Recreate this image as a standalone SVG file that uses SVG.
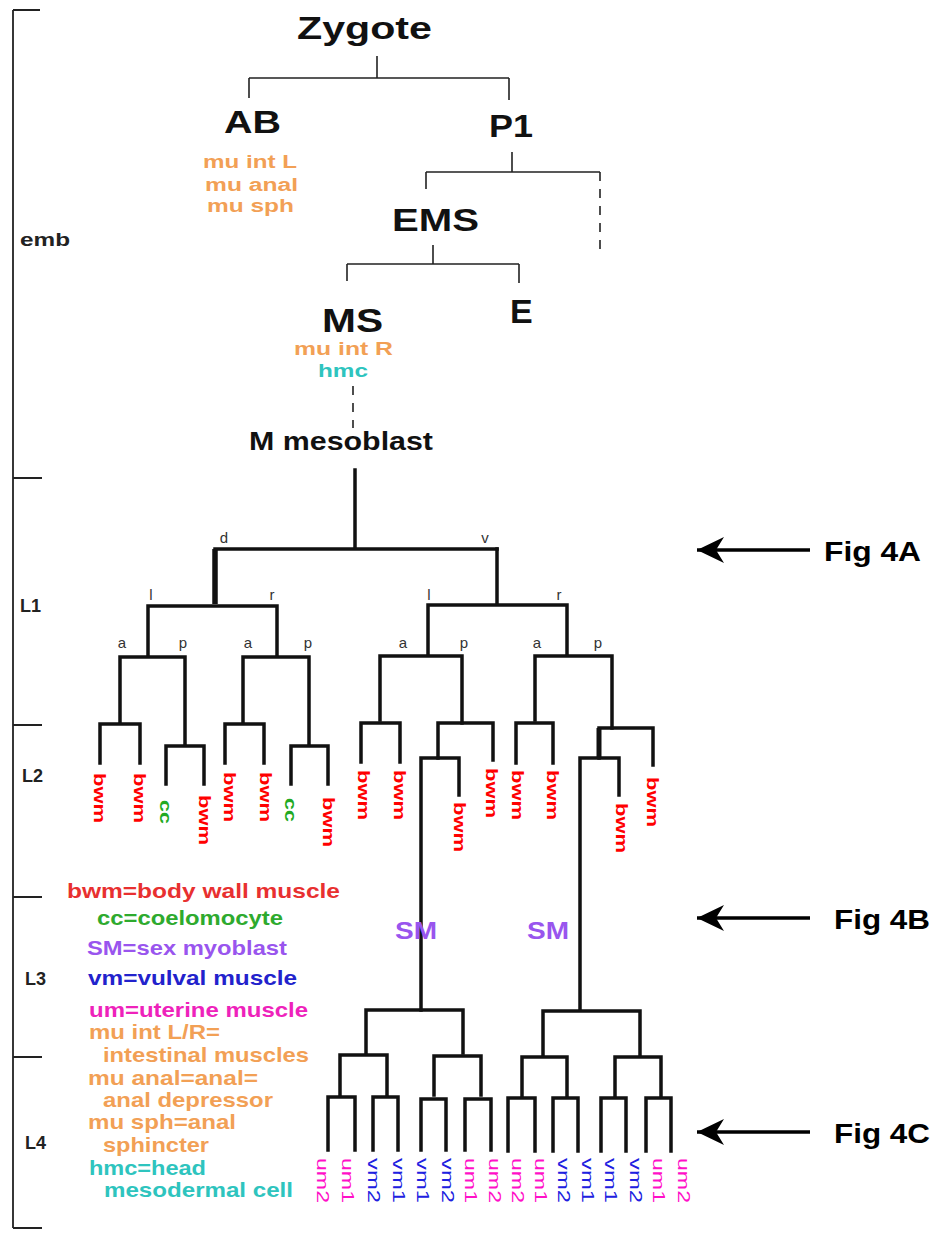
<svg xmlns="http://www.w3.org/2000/svg" width="933" height="1233" viewBox="0 0 933 1233">
<style>
text{font-family:"Liberation Sans",Arial,sans-serif}
.big{font-weight:bold;fill:#111}
.or{fill:#F2A055;font-weight:bold}
.tl{fill:#2EC4BE;font-weight:bold}
.lv{font-size:18px;font-weight:bold;fill:#222}
.ax{font-size:15px;fill:#333;text-anchor:middle}
.thin{stroke:#222;stroke-width:1.6;fill:none}
.dash{stroke:#222;stroke-width:1.6;fill:none;stroke-dasharray:9 8}
.tk{stroke:#111;stroke-width:3.5;fill:none;stroke-linejoin:miter;stroke-linecap:square}
.tl2{stroke:#222;stroke-width:1.8;fill:none}
.arr{stroke:#000;stroke-width:3.5;fill:none;marker-start:url(#ah)}
.bwm{fill:#FF0000;font-size:17px;font-weight:bold}
.cc{fill:#22AA22;font-size:17px;font-weight:bold}
.um{fill:#FF10C8;font-size:17px}
.vm{fill:#2020E0;font-size:17px}
.leg{font-size:21px;font-weight:bold}
.fig{font-size:28px;font-weight:bold;fill:#000}
.sm{fill:#9955EE;font-size:24px;font-weight:bold}
</style>
<defs>
<marker id="ah" markerUnits="userSpaceOnUse" markerWidth="30" markerHeight="30" refX="28" refY="14" orient="auto-start-reverse" viewBox="0 0 30 30">
<path d="M28,14 L1,1 L9,14 L1,27 Z" fill="#000"/>
</marker>
</defs>

<g id="timeline">
<path class="tl2" d="M13,10 V1228 M13,10 H40 M13,478 H42 M13,725 H42 M13,897 H42 M13,1057 H42 M13,1228 H42"/>
<text class="lv" x="20" y="246" textLength="50" lengthAdjust="spacingAndGlyphs">emb</text>
<text class="lv" x="20" y="612">L1</text>
<text class="lv" x="22" y="782">L2</text>
<text class="lv" x="25" y="985">L3</text>
<text class="lv" x="25" y="1149">L4</text>
</g>

<g id="connectors">
<path class="thin" d="M377,56 V78 M249,78 H509 M249,78 V98 M509,78 V100"/>
<path class="thin" d="M512,152 V172 M426,172 H600 M426,172 V189"/>
<path class="dash" d="M600,172 V250"/>
<path class="thin" d="M433,245 V264 M347,264 H519 M347,264 V281 M519,264 V283"/>
<path class="dash" d="M353,386 V428"/>
<path class="tk" d="M355,470 V549 M215,549 H497"/>
<path stroke="#111" stroke-width="5.5" d="M215,549 V604"/>
<path class="tk" d="M148,606 H277 M148,606 V655 M277,606 V655"/>
<path class="tk" d="M120,657 H185 M120,657 V722 M185,657 V745 M243,657 H309 M243,657 V722 M309,657 V745"/>
<path class="tk" d="M100,763 V724 H140 V763 M166,784 V746 H204 V784 M225,763 V724 H264 V763 M291,784 V746 H328 V784"/>
<path class="tk" d="M497,549 V603 M428,605 H567 M428,605 V655 M567,605 V655"/>
<path class="tk" d="M380,656 H462 M380,656 V720 M462,656 V723 M535,656 H612 M535,656 V720 M612,656 V728"/>
<path class="tk" d="M361,762 V723 H400 V762 M438,758 V723 H493 V760 M516,763 V723 H553 V763 M599,758 V728 H653 V765"/>
<path stroke="#111" stroke-width="5" d="M599,728 V758"/>
<path class="tk" d="M421,1010 V758 H459 V795 M580,1010 V758 H619 V795"/>
<path class="tk" d="M366,1010 H463 M366,1010 V1053 M463,1010 V1053"/>
<path class="tk" d="M340,1055 H387 M340,1055 V1095 M387,1055 V1095 M434,1056 H481 M434,1056 V1095 M481,1056 V1095"/>
<path class="tk" d="M328,1150 V1097 H355 V1150 M373,1150 V1097 H398 V1150 M421,1150 V1099 H446 V1150 M465,1150 V1099 H491 V1150"/>
<path class="tk" d="M543,1011 H640 M543,1011 V1055 M640,1011 V1055"/>
<path class="tk" d="M522,1057 H567 M522,1057 V1096 M567,1057 V1096 M615,1057 H661 M615,1057 V1096 M661,1057 V1096"/>
<path class="tk" d="M508,1151 V1098 H535 V1151 M553,1151 V1098 H578 V1151 M601,1151 V1098 H626 V1151 M646,1151 V1098 H671 V1151"/>
<line class="arr" x1="697" y1="550" x2="810" y2="550"/>
<line class="arr" x1="697" y1="918" x2="810" y2="918"/>
<line class="arr" x1="697" y1="1132" x2="810" y2="1132"/>
</g>

<g id="branch-labels">
<text class="ax" x="224" y="543">d</text>
<text class="ax" x="485" y="543">v</text>
<text class="ax" x="151" y="600">l</text>
<text class="ax" x="272" y="600">r</text>
<text class="ax" x="429" y="600">l</text>
<text class="ax" x="559" y="600">r</text>
<text class="ax" x="122" y="648">a</text>
<text class="ax" x="183" y="648">p</text>
<text class="ax" x="248" y="648">a</text>
<text class="ax" x="308" y="648">p</text>
<text class="ax" x="403" y="648">a</text>
<text class="ax" x="464" y="648">p</text>
<text class="ax" x="537" y="648">a</text>
<text class="ax" x="598" y="648">p</text>
</g>

<g id="zygote"><text class="big" x="297" y="39" font-size="31" textLength="135" lengthAdjust="spacingAndGlyphs">Zygote</text></g>
<g id="ab">
<text class="big" x="224" y="133" font-size="32" textLength="57" lengthAdjust="spacingAndGlyphs">AB</text>
<text class="or" x="203" y="168" font-size="18" textLength="94" lengthAdjust="spacingAndGlyphs">mu int L</text>
<text class="or" x="205" y="191" font-size="18" textLength="93" lengthAdjust="spacingAndGlyphs">mu anal</text>
<text class="or" x="207" y="212" font-size="18" textLength="87" lengthAdjust="spacingAndGlyphs">mu sph</text>
</g>
<g id="p1"><text class="big" x="489" y="137" font-size="32" textLength="44" lengthAdjust="spacingAndGlyphs">P1</text></g>
<g id="ems"><text class="big" x="392" y="231" font-size="32" textLength="87" lengthAdjust="spacingAndGlyphs">EMS</text></g>
<g id="ms">
<text class="big" x="322" y="332" font-size="34" textLength="61" lengthAdjust="spacingAndGlyphs">MS</text>
<text class="or" x="294" y="355" font-size="19" textLength="99" lengthAdjust="spacingAndGlyphs">mu int R</text>
<text class="tl" x="318" y="377" font-size="19" textLength="50" lengthAdjust="spacingAndGlyphs">hmc</text>
</g>
<g id="e"><text class="big" x="510" y="323" font-size="34">E</text></g>
<g id="m-mesoblast"><text class="big" x="249" y="450" font-size="25" textLength="184" lengthAdjust="spacingAndGlyphs">M mesoblast</text></g>

<g id="l2-leaves" dominant-baseline="central">
<text class="bwm" transform="translate(99,773) rotate(90)" textLength="50" lengthAdjust="spacingAndGlyphs">bwm</text>
<text class="bwm" transform="translate(139,773) rotate(90)" textLength="50" lengthAdjust="spacingAndGlyphs">bwm</text>
<text class="cc" transform="translate(165,800) rotate(90)" textLength="24" lengthAdjust="spacingAndGlyphs">cc</text>
<text class="bwm" transform="translate(204,795) rotate(90)" textLength="50" lengthAdjust="spacingAndGlyphs">bwm</text>
<text class="bwm" transform="translate(229,772) rotate(90)" textLength="50" lengthAdjust="spacingAndGlyphs">bwm</text>
<text class="bwm" transform="translate(265,772) rotate(90)" textLength="50" lengthAdjust="spacingAndGlyphs">bwm</text>
<text class="cc" transform="translate(290,798) rotate(90)" textLength="24" lengthAdjust="spacingAndGlyphs">cc</text>
<text class="bwm" transform="translate(328,797) rotate(90)" textLength="50" lengthAdjust="spacingAndGlyphs">bwm</text>
<text class="bwm" transform="translate(363,770) rotate(90)" textLength="50" lengthAdjust="spacingAndGlyphs">bwm</text>
<text class="bwm" transform="translate(399,770) rotate(90)" textLength="50" lengthAdjust="spacingAndGlyphs">bwm</text>
<text class="bwm" transform="translate(459,802) rotate(90)" textLength="50" lengthAdjust="spacingAndGlyphs">bwm</text>
<text class="bwm" transform="translate(491,768) rotate(90)" textLength="50" lengthAdjust="spacingAndGlyphs">bwm</text>
<text class="bwm" transform="translate(517,770) rotate(90)" textLength="50" lengthAdjust="spacingAndGlyphs">bwm</text>
<text class="bwm" transform="translate(552,770) rotate(90)" textLength="50" lengthAdjust="spacingAndGlyphs">bwm</text>
<text class="bwm" transform="translate(621,803) rotate(90)" textLength="50" lengthAdjust="spacingAndGlyphs">bwm</text>
<text class="bwm" transform="translate(652,777) rotate(90)" textLength="50" lengthAdjust="spacingAndGlyphs">bwm</text>
</g>

<g id="sm-labels">
<text class="sm" x="395" y="939" textLength="42" lengthAdjust="spacingAndGlyphs">SM</text>
<text class="sm" x="527" y="939" textLength="42" lengthAdjust="spacingAndGlyphs">SM</text>
</g>

<g id="l4-leaves" dominant-baseline="central">
<text class="um" transform="translate(322,1158) rotate(90)" textLength="45" lengthAdjust="spacingAndGlyphs">um2</text>
<text class="um" transform="translate(347,1158) rotate(90)" textLength="45" lengthAdjust="spacingAndGlyphs">um1</text>
<text class="vm" transform="translate(373,1158) rotate(90)" textLength="45" lengthAdjust="spacingAndGlyphs">vm2</text>
<text class="vm" transform="translate(398,1158) rotate(90)" textLength="45" lengthAdjust="spacingAndGlyphs">vm1</text>
<text class="vm" transform="translate(422,1158) rotate(90)" textLength="45" lengthAdjust="spacingAndGlyphs">vm1</text>
<text class="vm" transform="translate(447,1158) rotate(90)" textLength="45" lengthAdjust="spacingAndGlyphs">vm2</text>
<text class="um" transform="translate(470,1158) rotate(90)" textLength="45" lengthAdjust="spacingAndGlyphs">um1</text>
<text class="um" transform="translate(494,1158) rotate(90)" textLength="45" lengthAdjust="spacingAndGlyphs">um2</text>
<text class="um" transform="translate(517,1158) rotate(90)" textLength="45" lengthAdjust="spacingAndGlyphs">um2</text>
<text class="um" transform="translate(540,1158) rotate(90)" textLength="45" lengthAdjust="spacingAndGlyphs">um1</text>
<text class="vm" transform="translate(563,1158) rotate(90)" textLength="45" lengthAdjust="spacingAndGlyphs">vm2</text>
<text class="vm" transform="translate(587,1158) rotate(90)" textLength="45" lengthAdjust="spacingAndGlyphs">vm1</text>
<text class="vm" transform="translate(610,1158) rotate(90)" textLength="45" lengthAdjust="spacingAndGlyphs">vm1</text>
<text class="vm" transform="translate(635,1158) rotate(90)" textLength="45" lengthAdjust="spacingAndGlyphs">vm2</text>
<text class="um" transform="translate(658,1158) rotate(90)" textLength="45" lengthAdjust="spacingAndGlyphs">um1</text>
<text class="um" transform="translate(683,1158) rotate(90)" textLength="45" lengthAdjust="spacingAndGlyphs">um2</text>
</g>

<g id="legend">
<text x="67" y="898" fill="#E83030" class="leg" textLength="273" lengthAdjust="spacingAndGlyphs">bwm=body wall muscle</text>
<text x="97" y="925" fill="#2EAA2E" class="leg" textLength="186" lengthAdjust="spacingAndGlyphs">cc=coelomocyte</text>
<text x="87" y="955" fill="#9955EE" class="leg" textLength="200" lengthAdjust="spacingAndGlyphs">SM=sex myoblast</text>
<text x="88" y="985" fill="#2222CC" class="leg" textLength="209" lengthAdjust="spacingAndGlyphs">vm=vulval muscle</text>
<text x="89" y="1017" fill="#EE22BB" class="leg" textLength="219" lengthAdjust="spacingAndGlyphs">um=uterine muscle</text>
<text x="89" y="1039" fill="#F2A055" class="leg" textLength="131" lengthAdjust="spacingAndGlyphs">mu int L/R=</text>
<text x="103" y="1062" fill="#F2A055" class="leg" textLength="206" lengthAdjust="spacingAndGlyphs">intestinal muscles</text>
<text x="88" y="1085" fill="#F2A055" class="leg" textLength="170" lengthAdjust="spacingAndGlyphs">mu anal=anal=</text>
<text x="103" y="1107" fill="#F2A055" class="leg" textLength="170" lengthAdjust="spacingAndGlyphs">anal depressor</text>
<text x="88" y="1129" fill="#F2A055" class="leg" textLength="148" lengthAdjust="spacingAndGlyphs">mu sph=anal</text>
<text x="103" y="1152" fill="#F2A055" class="leg" textLength="106" lengthAdjust="spacingAndGlyphs">sphincter</text>
<text x="89" y="1175" fill="#2EC4BE" class="leg" textLength="117" lengthAdjust="spacingAndGlyphs">hmc=head</text>
<text x="104" y="1197" fill="#2EC4BE" class="leg" textLength="189" lengthAdjust="spacingAndGlyphs">mesodermal cell</text>
</g>

<g id="fig-labels">
<text class="fig" x="824" y="561" textLength="97" lengthAdjust="spacingAndGlyphs">Fig 4A</text>
<text class="fig" x="834" y="929" textLength="96" lengthAdjust="spacingAndGlyphs">Fig 4B</text>
<text class="fig" x="834" y="1143" textLength="96" lengthAdjust="spacingAndGlyphs">Fig 4C</text>
</g>
</svg>
